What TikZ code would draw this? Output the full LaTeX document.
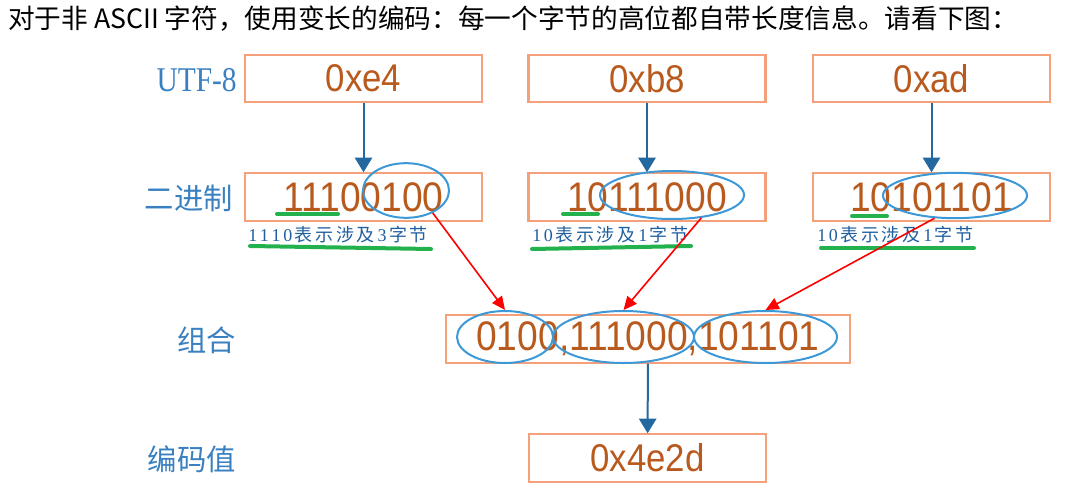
\documentclass[tikz,border=0pt]{standalone}
\usepackage{fontspec}
\setmainfont[FakeStretch=0.9]{Liberation Sans}
\newfontfamily\cjk{Noto Sans CJK SC}
\newfontfamily\notedigit{Liberation Serif}
\newfontfamily\rowserif[FakeStretch=0.85]{Liberation Serif}
\usetikzlibrary{shapes.geometric,arrows.meta}

\makeatletter
\newcommand\notespread[1]{\@tfor\ns@ch:=#1\do{\ns@ch\kern2pt}}
\makeatother

\definecolor{boxline}{RGB}{244,160,122}
\definecolor{digit}{RGB}{184,90,30}
\definecolor{rowblue}{RGB}{58,128,192}
\definecolor{noteblue}{RGB}{31,95,160}
\definecolor{ringblue}{RGB}{60,152,214}
\definecolor{flowblue}{RGB}{35,105,160}
\definecolor{markgreen}{RGB}{34,177,76}

\tikzset{
	bytebox/.style={draw=boxline,line width=1.6pt,minimum height=35.5pt,inner sep=0pt,text=digit},
	hexbox/.style={bytebox,minimum width=177.75pt,font=\fontsize{29}{29}\selectfont},
	binbox/.style={bytebox,minimum width=177.75pt,font=\fontsize{31}{31}\selectfont},
	ring/.style={ellipse,draw=ringblue,line width=1.5pt,inner sep=0pt},
	rowlabel/.style={anchor=east,inner sep=0pt,text=rowblue,font=\cjk\fontsize{22}{22}\selectfont},
	note/.style={anchor=west,inner sep=0pt,text=noteblue,font=\cjk\fontsize{13.5}{13.5}\selectfont},
	flow/.style={draw=flowblue,line width=1.5pt,-{Triangle[width=13pt,length=11pt]}},
	pick/.style={draw=red,line width=1.2pt,-{Triangle[width=9pt,length=10pt]}},
	underbar/.style={draw=markgreen,line width=3pt,line cap=round}
}

\begin{document}
\begin{tikzpicture}[x=0.75pt,y=-0.75pt]
	\useasboundingbox (0,0) rectangle (1087,496);

	\node (intro) at (8,19) [anchor=west,inner sep=0pt,font=\cjk\fontsize{20}{20}\selectfont] {对于非 ASCII 字符，使用变长的编码：每一个字节的高位都自带长度信息。请看下图：};

	% row labels
	\node (lutf) at (237,80) [rowlabel,font=\rowserif\fontsize{26}{26}\selectfont] {UTF-8};
	\node (lbin) at (233,198) [rowlabel] {二进制};
	\node (lcomb) at (236,340) [rowlabel] {组合};
	\node (lenc) at (236,459) [rowlabel] {编码值};

	% bytes
	\node (h1) at (363.5,78.5) [hexbox] {0xe4};
	\node (h2) at (647,78.5) [hexbox] {0xb8};
	\node (h3) at (931.5,78.5) [hexbox] {0xad};

	\node (b1) at (363.5,197) [binbox] {11100100};
	\node (b2) at (647,197) [binbox] {10111000};
	\node (b3) at (931.5,197) [binbox] {10101101};

	\node (comb) at (648,339) [binbox,minimum width=303pt] {0100,111000,101101};
	\node (enc) at (647.5,458) [hexbox] {0x4e2d};

	% payload bits
	\node (b1e) at (406,190.5) [ring,minimum width=64.5pt,minimum height=41pt] {};
	\node (b2e) at (672,195) [ring,minimum width=108pt,minimum height=36pt] {};
	\node (b3e) at (955,195.5) [ring,minimum width=108pt,minimum height=34pt] {};

	\node (c1e) at (505,337) [ring,minimum width=72pt,minimum height=39pt] {};
	\node (c2e) at (623.5,337) [ring,minimum width=105.75pt,minimum height=39pt] {};
	\node (c3e) at (765.5,337) [ring,minimum width=107.25pt,minimum height=39pt] {};

	% length prefix
	\draw [underbar] (277,214) -- (338,214);
	\draw [underbar] (563,214) -- (598,214);
	\draw [underbar] (852,216) -- (887,216);

	\node (n1) at (248,235) [note] {{\notedigit\notespread{1110}}\notespread{表示涉及}{\notedigit\notespread{3}}\notespread{字节}};
	\node (n2) at (532,235) [note] {{\notedigit\notespread{10}}\notespread{表示涉及}{\notedigit\notespread{1}}\notespread{字节}};
	\node (n3) at (817,235) [note] {{\notedigit\notespread{10}}\notespread{表示涉及}{\notedigit\notespread{1}}\notespread{字节}};

	\draw [underbar] (250,246) -- (431,249);
	\draw [underbar] (532,249) -- (691,246);
	\draw [underbar] (821,248) -- (974,248);

	\draw [flow] (h1) -- (b1);
	\draw [flow] (h2) -- (b2);
	\draw [flow] (h3) -- (b3);
	\draw [flow] (comb) -- (enc);

	\draw [pick] (b1e.-40) -- (c1e.north);
	\draw [pick] (b2e.-38) -- (c2e.north);
	\draw [pick] (b3e.-132) -- (c3e.north);
\end{tikzpicture}
\end{document}
